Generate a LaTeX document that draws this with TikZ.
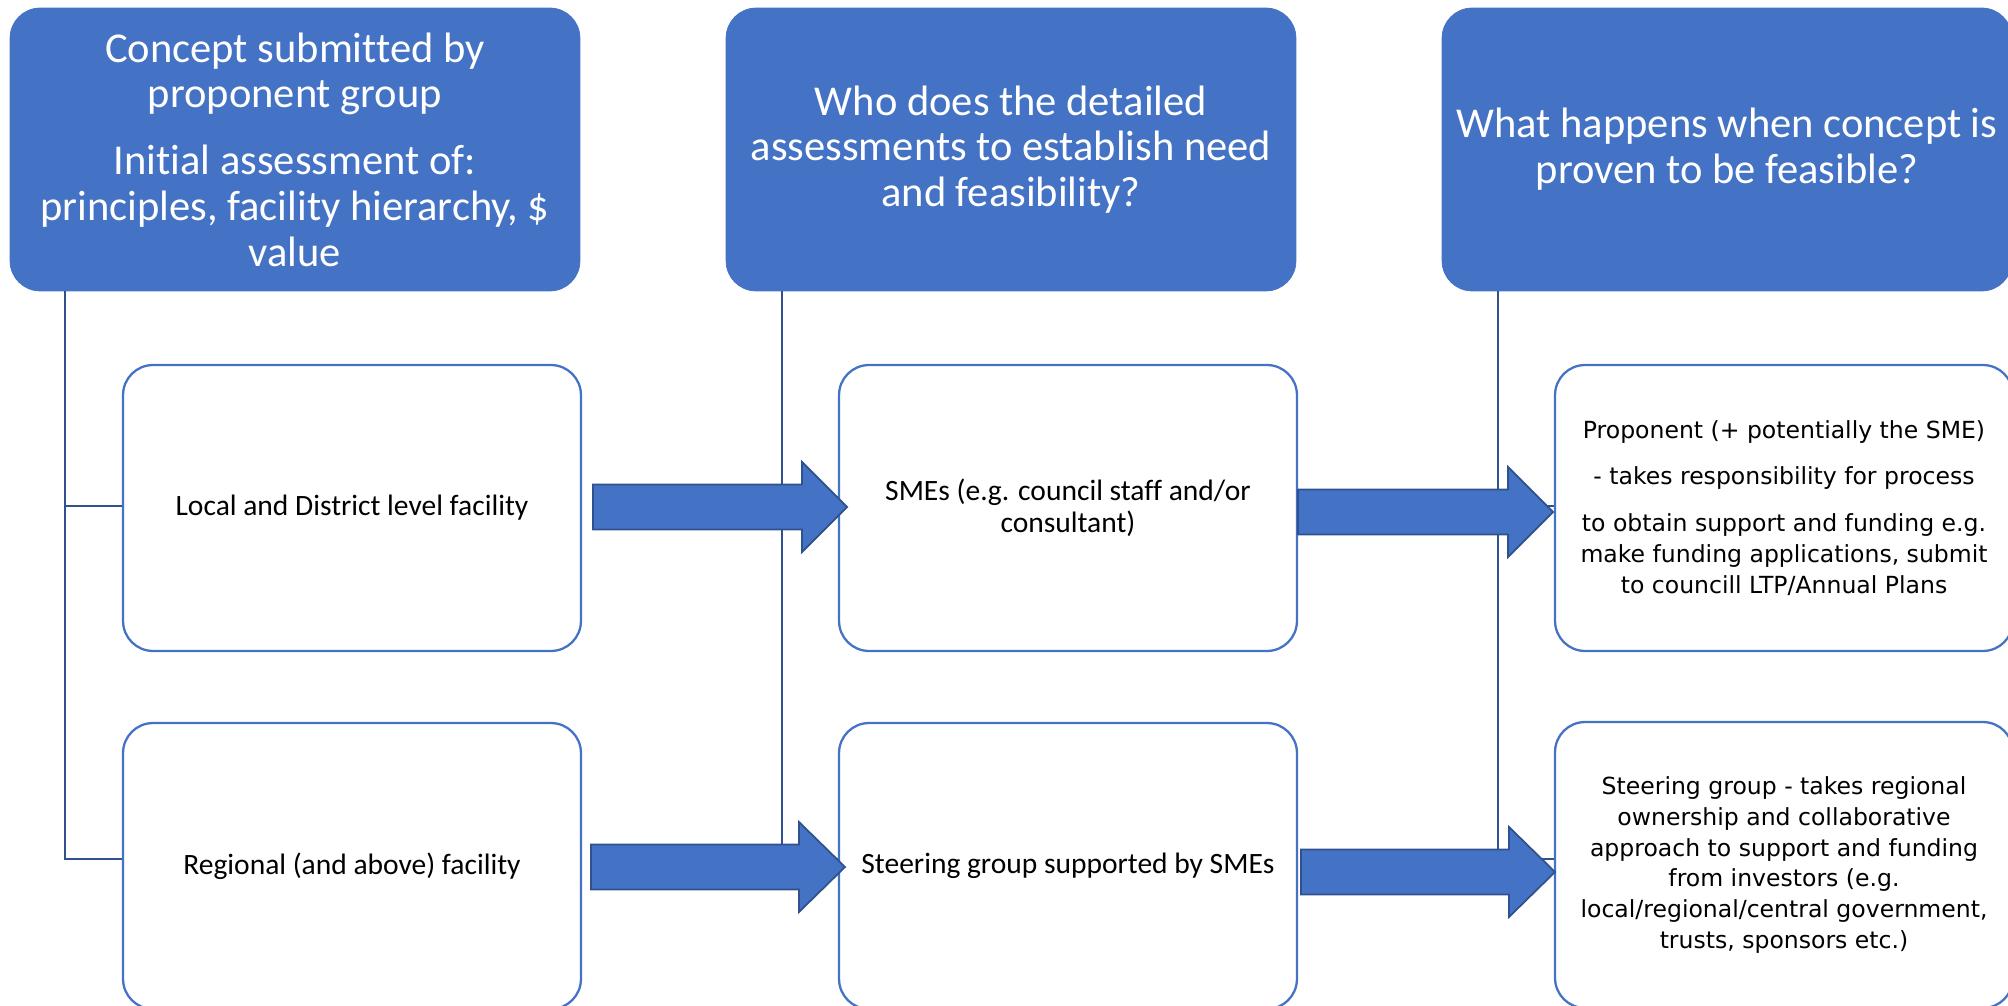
\documentclass[tikz,border=0pt]{standalone}
\usepackage{fontspec}
\setmainfont[Ligatures={NoCommon}]{Carlito}
\newfontfamily\verd{DejaVu Sans}
\definecolor{obl}{HTML}{4472C4}
\definecolor{dbl}{HTML}{2F528F}
\begin{document}
\begin{tikzpicture}[x=0.02cm,y=-0.02cm,
  head/.style={fill=obl,draw=obl,rounded corners=0.6cm,minimum width=11.4cm,minimum height=5.66cm,
    text=white,align=center,inner sep=0pt,font=\fontsize{24.2}{26}\selectfont},
  cbox/.style={fill=white,draw=obl,line width=1.3pt,rounded corners=0.6cm,minimum width=9.16cm,minimum height=5.72cm,
    align=center,inner sep=0pt,font=\fontsize{16.8}{18.2}\selectfont},
  vbox/.style={cbox,font=\verd\fontsize{13.4}{17.6}\selectfont},
  conn/.style={draw=dbl,line width=1.1pt},
  arr/.style={fill=obl,draw=dbl,line width=1pt,line join=miter}]
\useasboundingbox (0,0) rectangle (2008,1006);
\clip (0,0) rectangle (2008,1006);
% headers
\node[head] (h1) at (295,149.5) {Concept submitted by\\proponent group\\[12pt]Initial assessment of:\\principles, facility hierarchy, \$\\value};
\node[head] (h2) at (1011,149.5) {Who does the detailed\\assessments to establish need\\and feasibility?};
\node[head] (h3) at (1727,149.5) {What happens when concept is\\proven to be feasible?};
% connector coordinates
\coordinate (s1) at (65,291);  \coordinate (r11) at (123,506); \coordinate (r12) at (123,859);
\coordinate (s2) at (782,291); \coordinate (r21) at (839,506); \coordinate (r22) at (839,859);
\coordinate (s3) at (1498,291);\coordinate (r31) at (1555,506);\coordinate (r32) at (1555,859);
\draw[conn] (s1) |- (r12); \draw[conn] (s1 |- r11) -- (r11);
\draw[conn] (s2) |- (r22); \draw[conn] (s2 |- r21) -- (r21);
\draw[conn] (s3) |- (r32); \draw[conn] (s3 |- r31) -- (r31);
% boxes
\node[cbox] (b11) at (352,508) {Local and District level facility};
\node[cbox] (b12) at (352,866) {Regional (and above) facility};
\node[cbox] (b21) at (1068,508) {SMEs (e.g. council staff and/or\\consultant)};
\node[cbox] (b22) at (1068,866) {Steering group supported by SMEs};
\node[vbox] (b31) at (1784,508) {Proponent (+ potentially the SME)\\[9pt]- takes responsibility for process\\[9pt]to obtain support and funding e.g.\\make funding applications, submit\\to councill LTP/Annual Plans};
\node[vbox] (b32) at (1784,865) {Steering group - takes regional\\ownership and collaborative\\approach to support and funding\\from investors (e.g.\\local/regional/central government,\\trusts, sponsors etc.)};
% block arrows
\newcommand\blockarrow[4]{%
  \draw[arr] (#1,#4-22.5) -- (#2,#4-22.5) -- (#2,#4-45) -- (#3,#4) -- (#2,#4+45) -- (#2,#4+22.5) -- (#1,#4+22.5) -- cycle;}
\blockarrow{593}{802}{847}{507}
\blockarrow{591}{799}{845}{867}
\blockarrow{1298}{1508}{1553}{512}
\blockarrow{1301}{1509}{1555}{872}
\end{tikzpicture}
\end{document}
